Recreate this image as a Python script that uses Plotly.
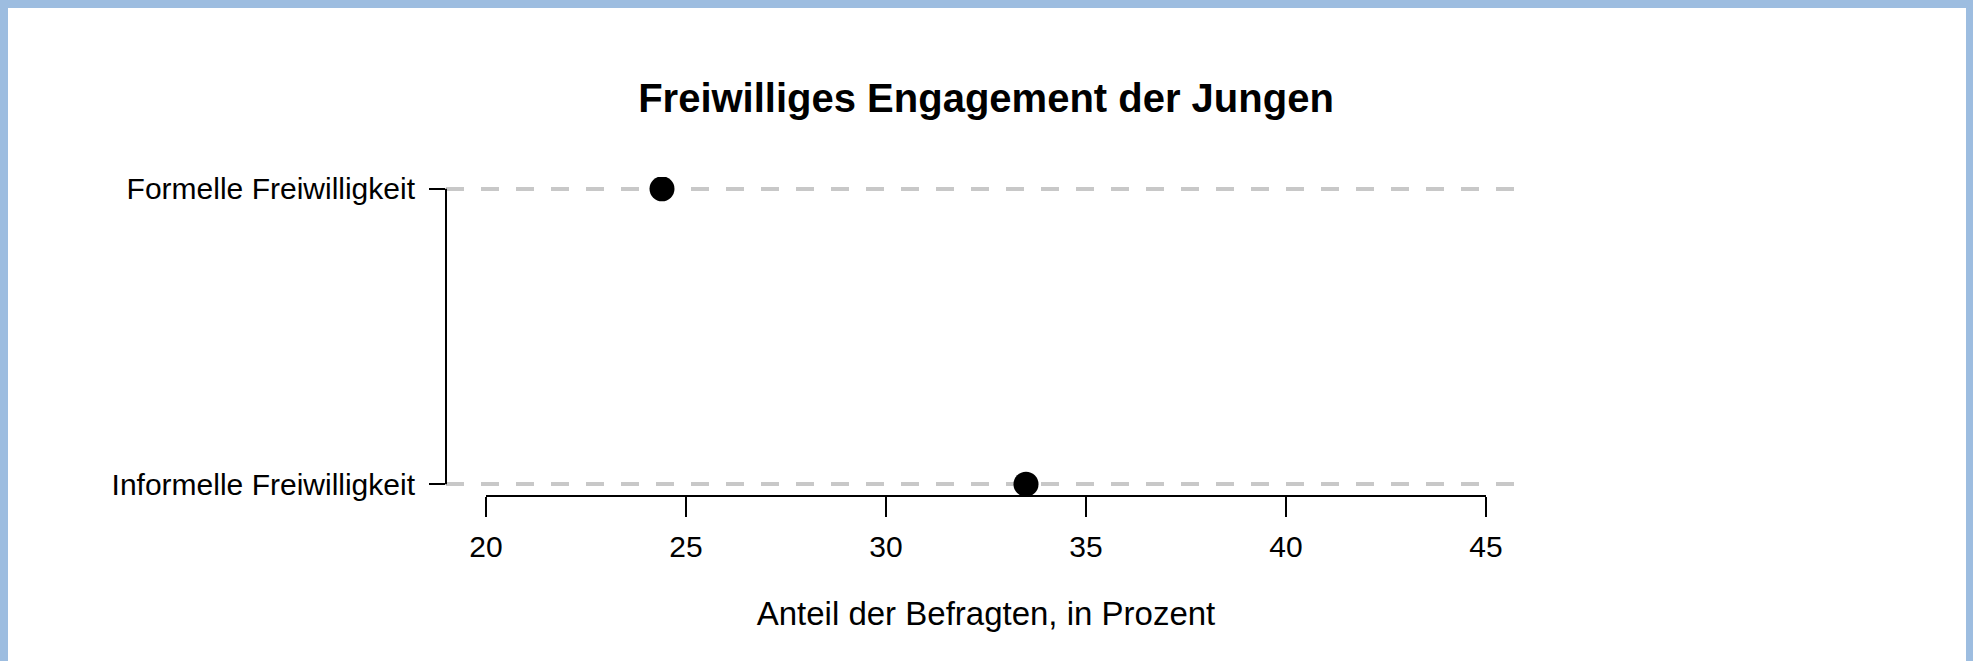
import plotly.graph_objects as go

# Daten
kategorien = ["Informelle Freiwilligkeit", "Formelle Freiwilligkeit"]
anteile = [33.5, 24.4]
x_ticks = [20, 25, 30, 35, 40, 45]

titel = "Freiwilliges Engagement der Jungen"
x_titel = "Anteil der Befragten, in Prozent"

W, H = 1973, 661
L, R, T, B = 446, 447, 177, 165
schrift = "Liberation Sans, Arial, sans-serif"

# Achsenbereich wie in R (4% Erweiterung)
lo, hi = min(x_ticks), max(x_ticks)
pad = 0.04 * (hi - lo)
x_range = [lo - pad, hi + pad]
y_range = [-0.04, len(kategorien) - 1 + 0.04]

fig = go.Figure()
fig.add_trace(go.Scatter(
    x=anteile, y=kategorien, mode="markers",
    marker=dict(color="black", size=25, line=dict(width=0)),
    showlegend=False, hoverinfo="x+y"))

# Papier-Koordinaten aus Pixeln
pw, ph = W - L - R, H - T - B
def px_x(p):
    return (p - L) / pw
def px_y(p):
    return (H - B - p) / ph

shapes = [
    # weisse Flaeche im blauen Rahmen
    dict(type="rect", xref="paper", yref="paper", layer="below",
         x0=px_x(8), x1=px_x(1966), y0=px_y(661), y1=px_y(8),
         fillcolor="white", line=dict(width=0)),
    # x-Achsenlinie nur von erstem bis letztem Tick
    dict(type="line", xref="x", yref="paper", x0=lo, x1=hi, y0=0, y1=0,
         line=dict(color="black", width=2)),
    # y-Achsenlinie zwischen den Kategorien
    dict(type="line", xref="paper", yref="y", x0=0, x1=0,
         y0=kategorien[0], y1=kategorien[-1],
         line=dict(color="black", width=2)),
]

fig.update_layout(
    width=W, height=H,
    margin=dict(l=L, r=R, t=T, b=B, autoexpand=False),
    paper_bgcolor="#9dbde0",
    plot_bgcolor="white",
    font=dict(family=schrift, color="black", size=30),
    title=dict(text="<b>" + titel + "</b>", x=0.5, xref="paper",
               y=1 - 98 / H, yref="container", yanchor="middle",
               xanchor="center",
               font=dict(family=schrift, size=40, color="black")),
    shapes=shapes,
    xaxis=dict(range=x_range, tickvals=x_ticks, ticks="outside", ticklen=20,
               tickwidth=2, tickcolor="black", showline=False, showgrid=False,
               zeroline=False, ticklabelstandoff=4,
               tickfont=dict(size=30),
               title=dict(text=x_titel, standoff=39,
                          font=dict(size=33))),
    yaxis=dict(type="category", categoryarray=kategorien, range=y_range,
               ticks="outside", ticklen=16, tickwidth=2, tickcolor="black",
               showline=False, showgrid=True, gridcolor="#c8c8c8",
               gridwidth=4, griddash="18px,17px", zeroline=False,
               ticklabelstandoff=8, tickfont=dict(size=30)),
)

# Seitenrand des Browsers entfernen, damit die Grafik bei (0,0) beginnt
fig.write_html("out.html", config={"displayModeBar": False},
               post_script="document.body.style.margin='0px';")
